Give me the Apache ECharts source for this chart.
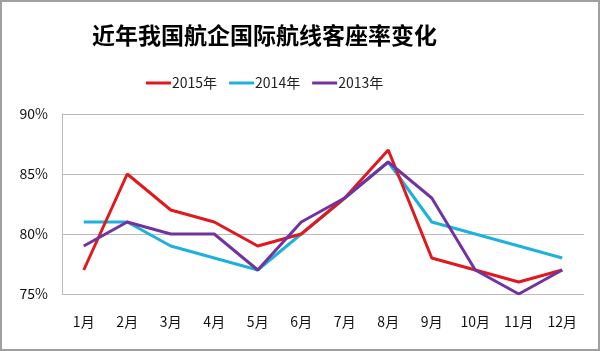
<!DOCTYPE html>
<html><head><meta charset="utf-8">
<script src="https://cdn.jsdelivr.net/npm/echarts@6/dist/echarts.min.js"></script>
<style>html,body{margin:0;padding:0;background:#fff}#c{width:600px;height:351px;box-sizing:border-box;border:2px solid #a0a0a0}</style>
</head><body><div id="c"></div>
<script>
const categories = ['1月','2月','3月','4月','5月','6月','7月','8月','9月','10月','11月','12月'];
const s2015 = [77, 85, 82, 81, 79, 80, 83, 87, 78, 77, 76, 77];
const s2014 = [81, 81, 79, 78, 77, 80, 83, 86, 81, 80, 79, 78];
const s2013 = [79, 81, 80, 80, 77, 81, 83, 86, 83, 77, 75, 77];
const names = ['2015年','2014年','2013年'];
const colors = ['#e0191e','#1fb1de','#7233a0'];
const chart = echarts.init(document.getElementById('c'));
const font = '"Noto Sans CJK SC", sans-serif';
chart.setOption({
  animation:false,
  color: colors,
  title:{text:'近年我国航企国际航线客座率变化', left:85, top:17,
    textStyle:{fontFamily:font, fontSize:23, fontWeight:'bold', color:'#000'}},
  legend:{top:74, left:144, padding:0, itemWidth:25, itemHeight:3, itemGap:12,
    icon:'rect', textStyle:{fontFamily:font, fontSize:14, color:'#222', padding:[0,0,0,-4]},
    data:names},
  grid:{left:60, right:14, top:112, bottom:55, containLabel:false},
  xAxis:{type:'category', data:categories, boundaryGap:true,
    axisLine:{show:false}, axisTick:{show:false},
    axisLabel:{fontFamily:font, fontSize:14, color:'#111', margin:21}},
  yAxis:{type:'value', min:75, max:90, interval:5,
    axisLabel:{formatter:'{value}%', fontFamily:font, fontSize:14, color:'#111', margin:14},
    axisLine:{show:true, lineStyle:{color:'#bbb'}},
    splitLine:{lineStyle:{color:'#bbb', width:1}}},
  series:[
    {name:names[0], type:'line', data:s2015, showSymbol:false, lineStyle:{width:3}, z:3},
    {name:names[1], type:'line', data:s2014, showSymbol:false, lineStyle:{width:3}, z:2},
    {name:names[2], type:'line', data:s2013, showSymbol:false, lineStyle:{width:3}, z:4}
  ]
});
</script></body></html>
